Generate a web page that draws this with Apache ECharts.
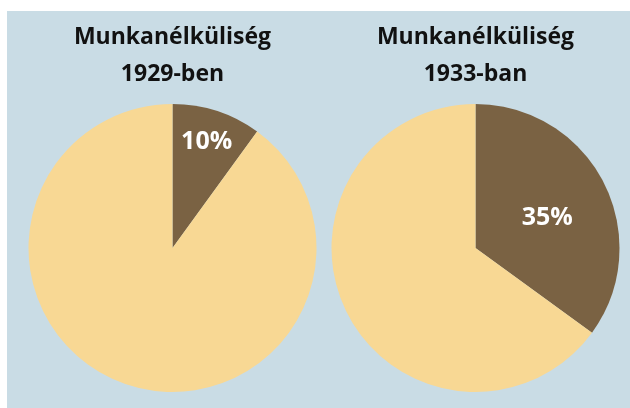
<!DOCTYPE html>
<html>
<head>
<meta charset="utf-8">
<script src="https://cdn.jsdelivr.net/npm/echarts@6/dist/echarts.min.js"></script>
<style>
  html, body { margin: 0; padding: 0; background: #ffffff; }
  #chart { width: 630px; height: 408px; }
</style>
</head>
<body>
<div id="chart"></div>
<script>
// Unemployment share before and during the Great Depression
const years = ['1929-ben', '1933-ban'];
const titleText = 'Munkanélküliség';
const unemployed = [10, 35];
const employed = [90, 65];

const darkColor = '#7a6243';
const lightColor = '#f8d894';
const fontFamily = '"Open Sans", "Noto Sans", sans-serif';

const centers = [[172.5, 248], [475.5, 248]];
const labelOffsets = [[11, -35], [5, 4]];

const chart = echarts.init(document.getElementById('chart'), null, { renderer: 'canvas' });

const series = years.map((y, i) => ({
  type: 'pie',
  center: centers[i],
  radius: 144,
  startAngle: 90,
  clockwise: true,
  silent: true,
  animation: false,
  label: { show: false },
  labelLine: { show: false },
  data: [
    {
      value: unemployed[i],
      itemStyle: { color: darkColor },
      label: {
        show: true,
        position: 'inside',
        formatter: '{c}%',
        color: '#ffffff',
        fontSize: 25,
        fontWeight: 'bold',
        fontFamily: fontFamily,
        offset: labelOffsets[i]
      }
    },
    { value: employed[i], itemStyle: { color: lightColor } }
  ]
}));

chart.setOption({
  animation: false,
  graphic: [{
    type: 'rect',
    z: -10,
    shape: { x: 7, y: 11, width: 623, height: 397 },
    style: { fill: '#c9dce5' }
  }],
  title: years.map((y, i) => ({
    text: titleText + '\n' + y,
    left: centers[i][0],
    top: 19,
    padding: 0,
    textAlign: 'center',
    textStyle: {
      fontFamily: fontFamily,
      fontSize: 23,
      fontWeight: 'bold',
      color: '#111111',
      lineHeight: 37
    }
  })),
  series: series
});
</script>
</body>
</html>
